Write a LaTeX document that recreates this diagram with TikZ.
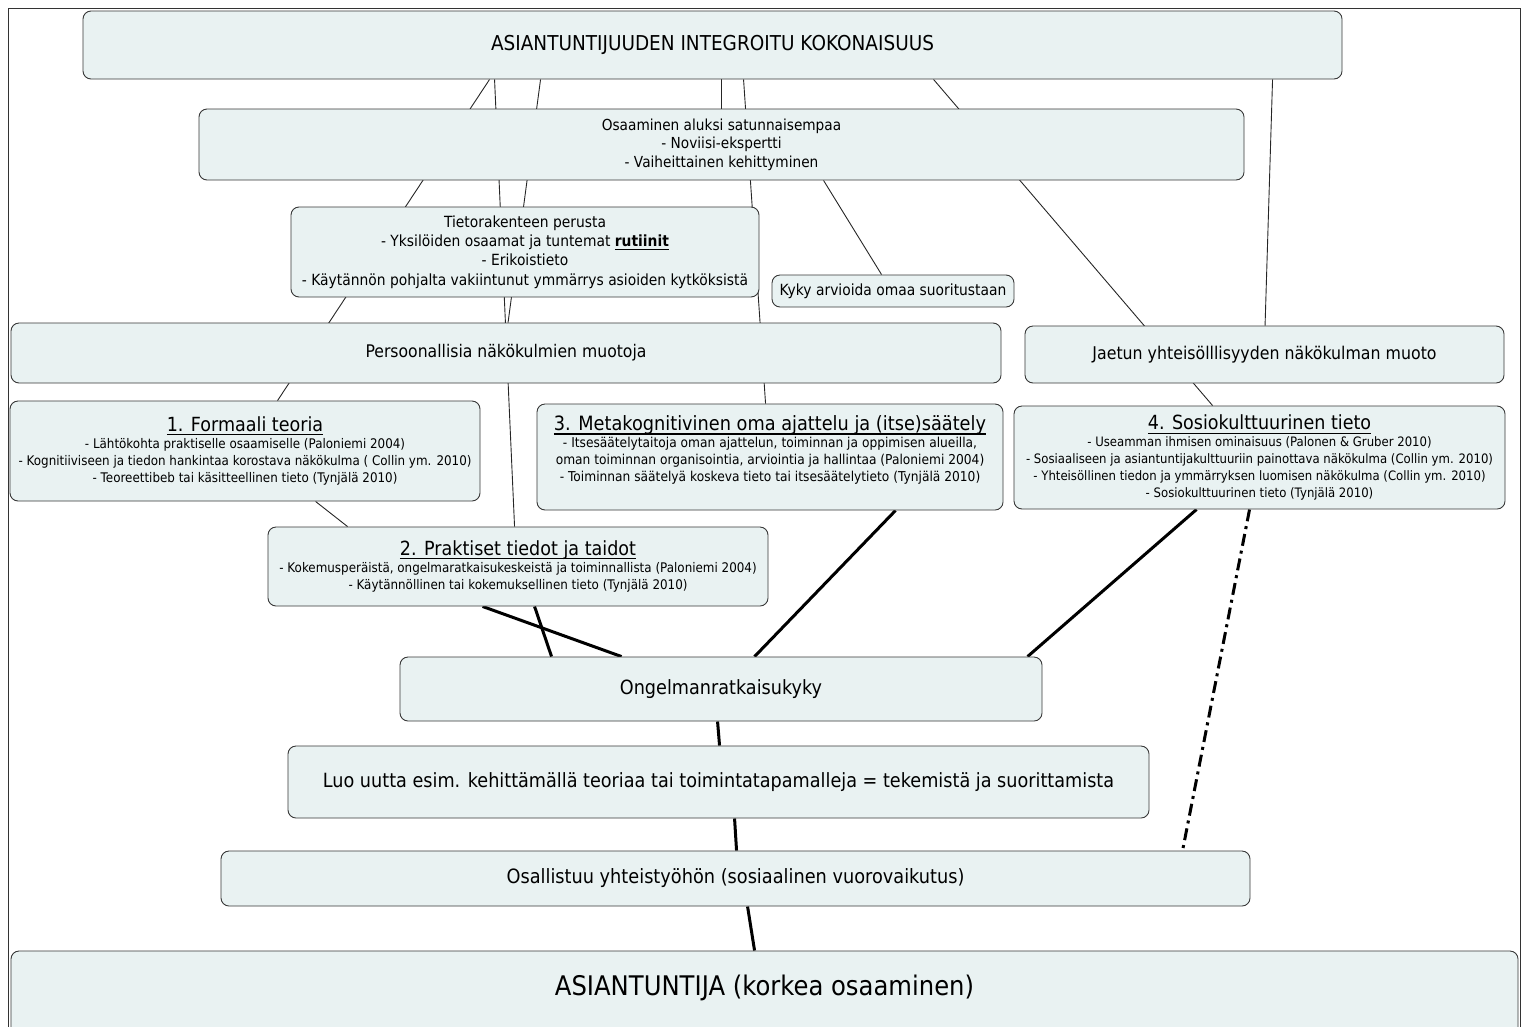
\documentclass[tikz,border=0pt]{standalone}
\usepackage{fontspec}
\setmainfont{DejaVu Sans}[FakeStretch=0.9]
\usetikzlibrary{backgrounds,calc}
\definecolor{boxfill}{RGB}{233,242,242}
\definecolor{boxline}{RGB}{55,55,55}
\newcommand{\fs}[2]{\fontsize{#1}{#2}\selectfont}
\newcommand{\myul}[1]{\setbox0\hbox{#1}\rlap{\rule[-0.2em]{\wd0}{0.065em}}\box0}
\begin{document}
\begin{tikzpicture}[x=1pt,y=1pt,
  box/.style={draw=boxline, fill=boxfill, rounded corners=8pt, line width=0.9pt, inner sep=0pt, align=center},
  txt/.style={inner sep=0pt, align=center},
  thinline/.style={line width=0.9pt, draw=black!85},
  thickline/.style={line width=3pt, draw=black},
  dashdotline/.style={line width=3pt, draw=black, dash pattern=on 12pt off 5pt on 3pt off 5pt}
]
\useasboundingbox (0,0) rectangle (1523,-1026);
\draw[line width=0.8pt, draw=black!80] (8,-8) rectangle (1520,-1045);

% nodes
\node[box, minimum width=1259pt, minimum height=68pt, font=\fs{20.5}{24}] (top) at (712.5,-45) {ASIANTUNTIJUUDEN INTEGROITU KOKONAISUUS};

\node[box, minimum width=1045pt, minimum height=71pt, font=\fs{15.2}{18.5}] (osa) at (721.5,-144.5)
  {Osaaminen aluksi satunnaisempaa\\- Noviisi-ekspertti\\- Vaiheittainen kehittyminen};

\node[box, minimum width=468pt, minimum height=90pt, font=\fs{15.4}{19.3}] (tieto) at (525,-252)
  {Tietorakenteen perusta\\- Yksilöiden osaamat ja tuntemat \textbf{\myul{rutiinit}}\\- Erikoistieto\\- Käytännön pohjalta vakiintunut ymmärrys asioiden kytköksistä};

\node[box, minimum width=242pt, minimum height=32pt, font=\fs{15.4}{18}] (kyky) at (893,-291) {Kyky arvioida omaa suoritustaan};

\node[box, minimum width=990pt, minimum height=60pt, font=\fs{17.4}{20}] (pers) at (506,-353) {Persoonallisia näkökulmien muotoja};

\node[box, minimum width=479pt, minimum height=57pt, font=\fs{17.55}{20}] (jaet) at (1264.5,-354.5) {Jaetun yhteisölllisyyden näkökulman muoto};

\node[box, minimum width=470pt, minimum height=100pt, font=\fs{13.25}{17}] (form) at (245,-451)
  {{\fs{19.5}{22}\myul{1. Formaali teoria}}\\- Lähtökohta praktiselle osaamiselle (Paloniemi 2004)\\- Kognitiiviseen ja tiedon hankintaa korostava näkökulma ( Collin ym. 2010)\\- Teoreettibeb tai käsitteellinen tieto (Tynjälä 2010)};

\node[box, minimum width=466pt, minimum height=106pt] (meta) at (770,-457) {};
\node[txt, font=\fs{13.6}{17}] (metaT) at (770,-450)
  {{\fs{19.7}{22}\myul{3. Metakognitivinen oma ajattelu ja (itse)säätely}}\\- Itsesäätelytaitoja oman ajattelun, toiminnan ja oppimisen alueilla,\\oman toiminnan organisointia, arviointia ja hallintaa (Paloniemi 2004)\\- Toiminnan säätelyä koskeva tieto tai itsesäätelytieto (Tynjälä 2010)};

\node[box, minimum width=491pt, minimum height=103pt, font=\fs{13}{16.8}] (sos) at (1259.5,-457.5)
  {{\fs{19.5}{22}\myul{4. Sosiokulttuurinen tieto}}\\- Useamman ihmisen ominaisuus (Palonen \& Gruber 2010)\\- Sosiaaliseen ja asiantuntijakulttuuriin painottava näkökulma (Collin ym. 2010)\\- Yhteisöllinen tiedon ja ymmärryksen luomisen näkökulma (Collin ym. 2010)\\- Sosiokulttuurinen tieto (Tynjälä 2010)};

\node[box, minimum width=500pt, minimum height=79pt, font=\fs{13.25}{17}] (prak) at (518,-566.5)
  {{\fs{19.5}{22}\myul{2. Praktiset tiedot ja taidot}}\\- Kokemusperäistä, ongelmaratkaisukeskeistä ja toiminnallista (Paloniemi 2004)\\- Käytännöllinen tai kokemuksellinen tieto (Tynjälä 2010)};

\node[box, minimum width=642pt, minimum height=64pt, font=\fs{19.6}{22}] (ong) at (721,-689) {Ongelmanratkaisukyky};

\node[box, minimum width=861pt, minimum height=72pt, font=\fs{19.6}{22}] (luo) at (718.5,-782)
  {Luo uutta esim. kehittämällä teoriaa tai toimintatapamalleja = tekemistä ja suorittamista};

\node[box, minimum width=1029pt, minimum height=55pt, font=\fs{19.7}{22}] (osal) at (735.5,-878.5)
  {Osallistuu yhteistyöhön (sosiaalinen vuorovaikutus)};

\node[box, minimum width=1507pt, minimum height=90pt] (expert) at (764.5,-996) {};
\node[txt, font=\fs{27}{30}] (expertT) at (764.5,-988) {ASIANTUNTIJA (korkea osaaminen)};

% connectors behind boxes
\begin{scope}[on background layer]
  \draw[thinline] ([xshift=407pt]top.south west) -- ([xshift=268pt]form.north west);
  \draw[thinline] ([xshift=412pt]top.south west) -- ([xshift=247pt]prak.north west);
  \draw[thinline] ([xshift=458pt]top.south west) -- ([xshift=497.5pt]pers.north west);
  \draw[thinline] ([xshift=639pt]top.south west) -- ([xshift=523pt]osa.north west);
  \draw[thinline] ([xshift=661pt]top.south west) -- ([xshift=229pt]meta.north west);
  \draw[thinline] ([xshift=625pt]osa.south west) -- ([xshift=110pt]kyky.north west);
  \draw[thinline] ([xshift=851pt]top.south west) -- ([xshift=199pt]sos.north west);
  \draw[thinline] ([xshift=1190pt]top.south west) -- ([xshift=240.5pt]jaet.north west);
  \draw[thinline] ([xshift=306pt]form.south west) -- ([xshift=80pt]prak.north west);

  \draw[thickline] ([xshift=215pt]prak.south west) -- ([xshift=222pt]ong.north west);
  \draw[thickline] ([xshift=267pt]prak.south west) -- ([xshift=152pt]ong.north west);
  \draw[thickline] ([xshift=359pt]meta.south west) -- ([xshift=355pt]ong.north west);
  \draw[thickline] ([xshift=183pt]sos.south west) -- ([xshift=628pt]ong.north west);
  \draw[thickline] ([xshift=318pt]ong.south west) -- ([xshift=432pt]luo.north west);
  \draw[thickline] ([xshift=447pt]luo.south west) -- ([xshift=516pt]osal.north west);
  \draw[thickline] ([xshift=527pt]osal.south west) -- ([xshift=744pt]expert.north west);
  \draw[dashdotline] ([xshift=236pt]sos.south west) -- ([xshift=962pt]osal.north west);
\end{scope}
\end{tikzpicture}
\end{document}
